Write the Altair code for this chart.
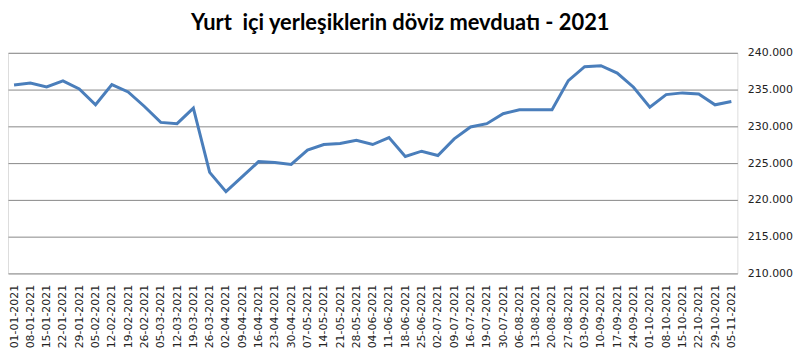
import altair as alt
import pandas as pd

dates = [
    "01-01-2021", "08-01-2021", "15-01-2021", "22-01-2021", "29-01-2021",
    "05-02-2021", "12-02-2021", "19-02-2021", "26-02-2021", "05-03-2021",
    "12-03-2021", "19-03-2021", "26-03-2021", "02-04-2021", "09-04-2021",
    "16-04-2021", "23-04-2021", "30-04-2021", "07-05-2021", "14-05-2021",
    "21-05-2021", "28-05-2021", "04-06-2021", "11-06-2021", "18-06-2021",
    "25-06-2021", "02-07-2021", "09-07-2021", "16-07-2021", "19-07-2021",
    "30-07-2021", "06-08-2021", "13-08-2021", "20-08-2021", "27-08-2021",
    "03-09-2021", "10-09-2021", "17-09-2021", "24-09-2021", "01-10-2021",
    "08-10-2021", "15-10-2021", "22-10-2021", "29-10-2021", "05-11-2021",
]
values = [
    235630, 235900, 235360, 236180, 235090,
    232930, 235680, 234680, 232700, 230540,
    230360, 232480, 223740, 221120, 223150,
    225200, 225090, 224820, 226760, 227530,
    227660, 228100, 227530, 228470, 225900,
    226620, 226040, 228290, 229910, 230360,
    231720, 232260, 232260, 232260, 236220,
    238110, 238240, 237250, 235320, 232610,
    234320, 234550, 234410, 232930, 233380,
]

df = pd.DataFrame({"tarih": dates, "deger": values})

title = "Yurt\u00a0 içi yerleşiklerin döviz mevduatı - 2021"

chart = alt.Chart(df).mark_line(color="#4A7EBB", strokeWidth=3).encode(
    x=alt.X("tarih:N", sort=None, title=None,
            scale=alt.Scale(type="point", padding=0.37),
            axis=alt.Axis(labelAngle=-90, ticks=False, domain=False, grid=False,
                          labelFont="DejaVu Sans", labelFontSize=11,
                          labelColor="#222222", labelPadding=11)),
    y=alt.Y("deger:Q", title=None,
            scale=alt.Scale(domain=[210000, 240000], nice=False, zero=False),
            axis=alt.Axis(orient="right", values=list(range(210000, 240001, 5000)),
                          labelExpr="replace(format(datum.value, ',.0f'), ',', '.')",
                          ticks=False, domain=False, grid=True,
                          gridColor="#878787", gridWidth=1,
                          labelFont="DejaVu Sans", labelFontSize=11,
                          labelColor="#222222", labelPadding=10)),
).properties(
    width=734,
    height=222,
    title=alt.TitleParams(text=title, font="Lato", fontSize=22, fontWeight="bold",
                          color="#000000", anchor="middle", frame="bounds",
                          offset=12),
    autosize=alt.AutoSizeParams(type="none"),
    padding={"left": 0, "top": 44, "right": 60, "bottom": 80},
).configure_view(stroke=None).configure(background="white")

chart.save("out.html", embed_options={"renderer": "svg", "actions": False})
